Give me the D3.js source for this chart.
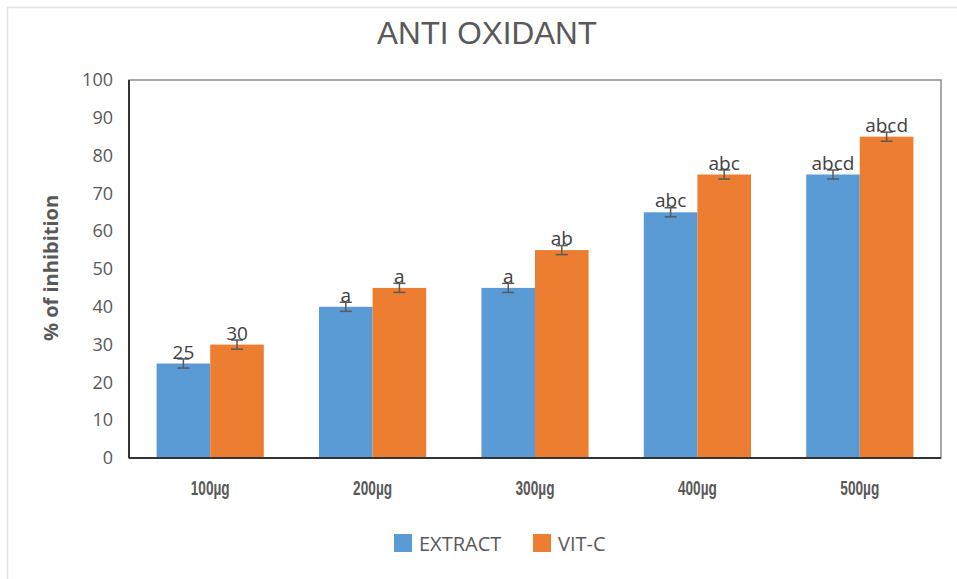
<!DOCTYPE html>
<html><head><meta charset="utf-8">
<script src="https://cdn.jsdelivr.net/npm/d3@7/dist/d3.min.js"></script>
<style>body{margin:0;background:#fff}svg{display:block}</style>
</head><body>
<svg id="c" width="957" height="579"></svg>
<script>
const categories = ["100µg","200µg","300µg","400µg","500µg"];
const seriesNames = ["EXTRACT","VIT-C"];
const extractValues = [25, 40, 45, 65, 75];
const vitcValues = [30, 45, 55, 75, 85];
const extractErr = [1.2, 1.2, 1.2, 1.2, 1.2];
const vitcErr = [1.2, 1.2, 1.2, 1.2, 1.2];
const extractLabels = ["25","a","a","abc","abcd"];
const vitcLabels = ["30","a","ab","abc","abcd"];
const yTicks = [0,10,20,30,40,50,60,70,80,90,100];
const colors = ["#5B9BD5","#ED7D31"];

const svg = d3.select("#c");
const L=129, R=941, T=80, B=458;

// outer chart border
svg.append("path").attr("d","M7.5,579 V7.5 H957").attr("fill","none").attr("stroke","#e3e3e3").attr("stroke-width",1.5);

const x = d3.scaleBand().domain(categories).range([L,R]).paddingInner(0.34).paddingOuter(0.17);
const xs = d3.scaleBand().domain(seriesNames).range([0,x.bandwidth()]);
const y = d3.scaleLinear().domain([0,100]).range([B,T]);

// plot box
svg.append("rect").attr("x",L).attr("y",T).attr("width",R-L).attr("height",B-T)
  .attr("fill","none").attr("stroke","#8c8c8c").attr("stroke-width",1.5);

const data = categories.map((c,i)=>[
  {c, s:seriesNames[0], v:extractValues[i], e:extractErr[i], l:extractLabels[i], col:colors[0]},
  {c, s:seriesNames[1], v:vitcValues[i], e:vitcErr[i], l:vitcLabels[i], col:colors[1]}
]).flat();

const g = svg.append("g");
g.selectAll("rect.bar").data(data).join("rect").attr("class","bar")
  .attr("x",d=>x(d.c)+xs(d.s)).attr("width",xs.bandwidth())
  .attr("y",d=>y(d.v)).attr("height",d=>y(0)-y(d.v))
  .attr("fill",d=>d.col);

// axis lines (dark)
svg.append("line").attr("x1",L).attr("x2",R).attr("y1",B).attr("y2",B).attr("stroke","#333").attr("stroke-width",2);
svg.append("line").attr("x1",L).attr("x2",L).attr("y1",T).attr("y2",B).attr("stroke","#333").attr("stroke-width",2);

// error bars
const eb = g.selectAll("g.eb").data(data).join("g").attr("stroke","#595959").attr("stroke-width",1.5);
const cx = d=>x(d.c)+xs(d.s)+xs.bandwidth()/2;
eb.append("line").attr("x1",cx).attr("x2",cx)
  .attr("y1",d=>y(d.v+d.e)).attr("y2",d=>y(d.v-d.e));
eb.append("line").attr("x1",d=>cx(d)-6).attr("x2",d=>cx(d)+6)
  .attr("y1",d=>y(d.v+d.e)).attr("y2",d=>y(d.v+d.e));
eb.append("line").attr("x1",d=>cx(d)-6).attr("x2",d=>cx(d)+6)
  .attr("y1",d=>y(d.v-d.e)).attr("y2",d=>y(d.v-d.e));

// bar labels
g.selectAll("text.lbl").data(data).join("text").attr("class","lbl")
  .attr("x",cx).attr("y",d=>y(d.v)-5)
  .attr("text-anchor","middle").attr("font-family","Open Sans").attr("font-size",19)
  .attr("fill","#404040").text(d=>d.l);

// y axis
const yAxis = svg.append("g").attr("transform",`translate(${L},0)`)
  .call(d3.axisLeft(y).tickValues(yTicks).tickSize(0).tickPadding(16));
yAxis.select(".domain").remove();
yAxis.selectAll("text").attr("font-family","Open Sans").attr("font-size",18).attr("fill","#595959");

// x axis
const xAxis = svg.append("g").attr("transform",`translate(0,${B})`)
  .call(d3.axisBottom(x).tickSize(0).tickPadding(23));
xAxis.select(".domain").remove();
xAxis.selectAll("text").attr("font-family","Liberation Sans").attr("font-weight","bold")
  .attr("font-size",20).attr("fill","#595959")
  .attr("textLength",39).attr("lengthAdjust","spacingAndGlyphs");

// y title
svg.append("text").attr("transform","translate(58,268) rotate(-90)").attr("text-anchor","middle")
  .attr("font-family","Open Sans").attr("font-weight","bold").attr("font-size",20).attr("fill","#595959")
  .text("% of inhibition");

// title
svg.append("text").attr("x",487).attr("y",44).attr("text-anchor","middle")
  .attr("font-family","Liberation Sans").attr("font-size",32).attr("fill","#595959")
  .attr("textLength",220).attr("lengthAdjust","spacingAndGlyphs").text("ANTI OXIDANT");

// legend
const leg = svg.append("g");
const legX = [394, 533];
seriesNames.forEach((s,i)=>{
  leg.append("rect").attr("x",legX[i]).attr("y",534).attr("width",18).attr("height",18).attr("fill",colors[i]);
  leg.append("text").attr("x",legX[i]+25).attr("y",551).attr("font-family","Open Sans").attr("font-size",20)
    .attr("fill","#595959").text(s);
});
</script>
</body></html>
